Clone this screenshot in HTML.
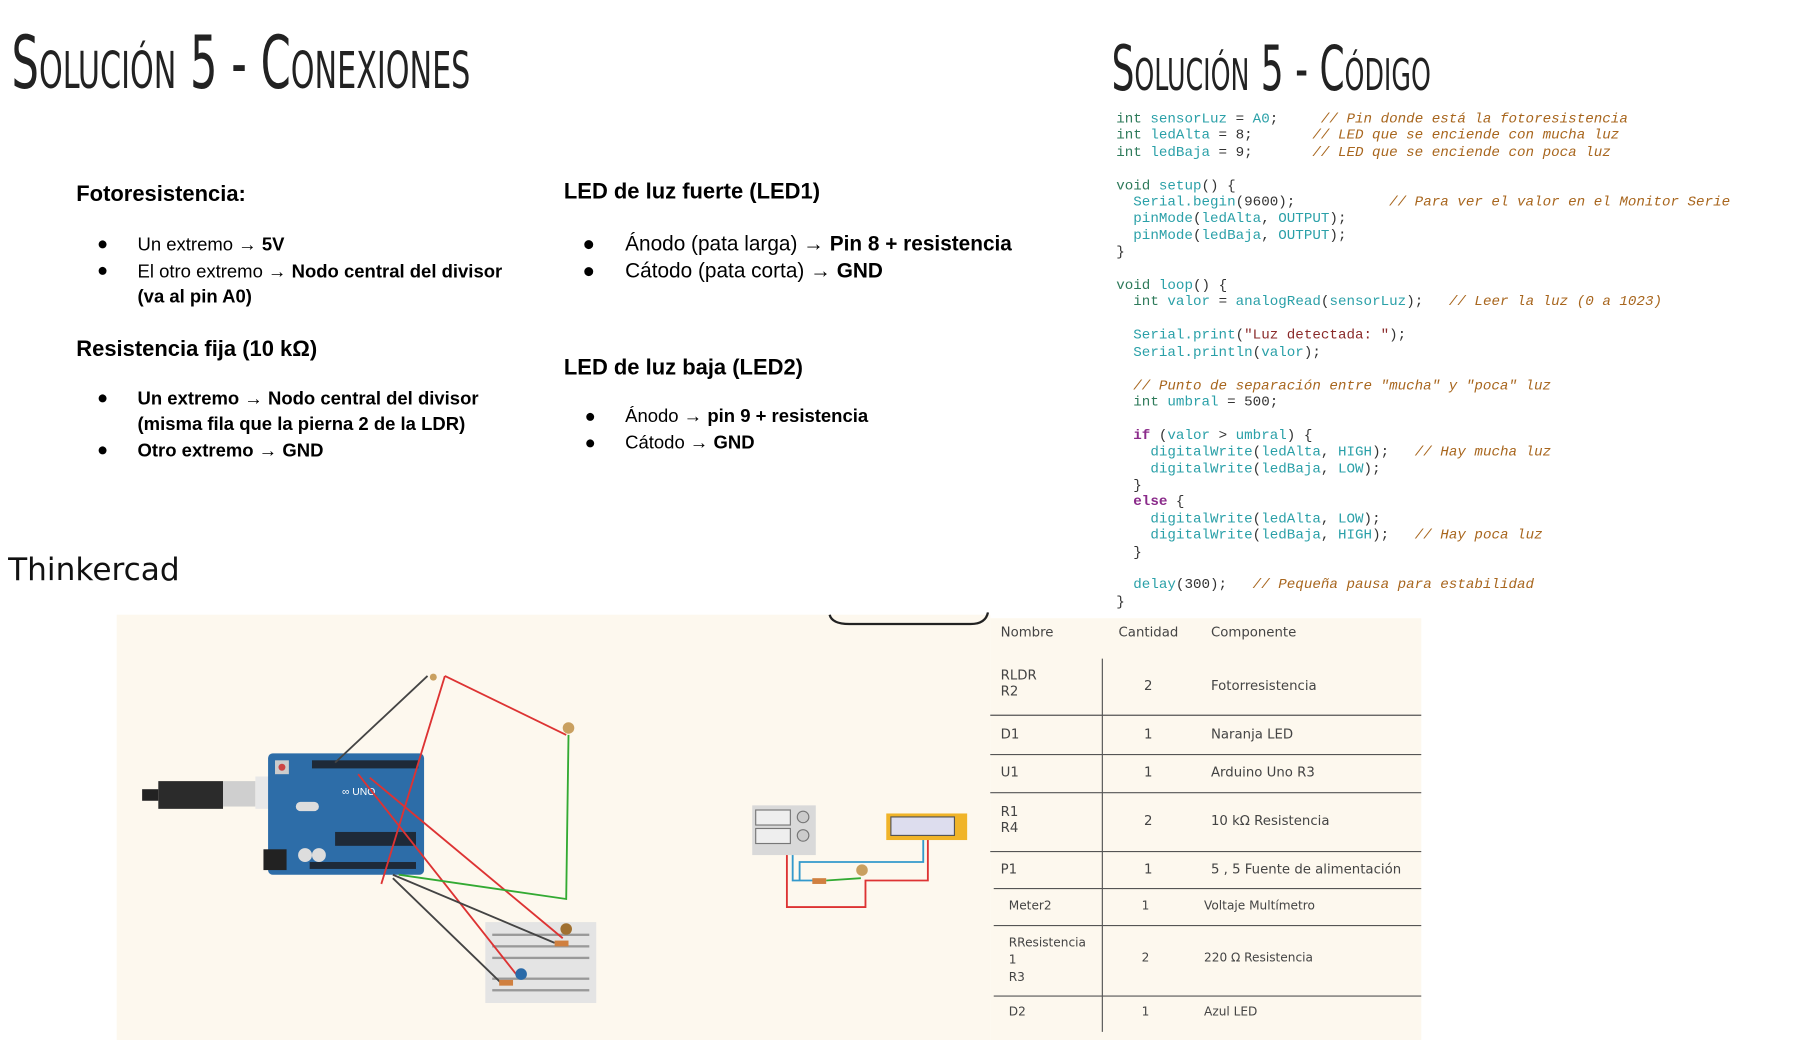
<!DOCTYPE html>
<html><head><meta charset="utf-8"><style>
html,body{margin:0;padding:0;background:#fff;width:1809px;height:1034px;overflow:hidden}
#s{position:absolute;left:0;top:0;width:1560px;height:892px;transform:scale(1.1555);transform-origin:0 0;font-family:"Liberation Sans",sans-serif;color:#000}
.a{position:absolute;white-space:nowrap}
.t{font-family:"DejaVu Sans Condensed","Liberation Sans",sans-serif;font-variant:small-caps;font-weight:300;transform-origin:0 0;color:#222}
.h{font-weight:bold;font-size:19px}
.b{font-size:16px}
.b2{font-size:18px}
pre{position:absolute;margin:0;font-family:"Liberation Mono",monospace;font-size:12.3px;line-height:14.4px;color:#333}
.k{color:#2e7a5a}.i{color:#2aa0a8}.c{color:#a8661e;font-style:italic}.s{color:#8a2a2a}.p{color:#8a2a8a;font-weight:bold}.n{color:#222}
.tb{position:absolute;font-family:"DejaVu Sans","Liberation Sans",sans-serif;font-size:11.5px;color:#444}
</style></head><body><div id="s">
<div class="a t" style="left:10px;top:18px;font-size:63px;transform:scaleX(.66)">Solución 5 - Conexiones</div>
<div class="a t" style="left:962px;top:28px;font-size:54px;transform:scaleX(.64)">Solución 5 - Código</div>

<div class="a h" style="left:66px;top:158px">Fotoresistencia:</div>
<div class="a b" style="left:84px;top:203px">●</div><div class="a b" style="left:119px;top:204px">Un extremo → <b>5V</b></div>
<div class="a b" style="left:84px;top:226px">●</div><div class="a b" style="left:119px;top:227px">El otro extremo → <b>Nodo central del divisor</b></div>
<div class="a b" style="left:119px;top:249px"><b>(va al pin A0)</b></div>
<div class="a h" style="left:66px;top:292px">Resistencia fija (10 kΩ)</div>
<div class="a b" style="left:84px;top:336px">●</div><div class="a b" style="left:119px;top:337px"><b>Un extremo → Nodo central del divisor</b></div>
<div class="a b" style="left:119px;top:359px"><b>(misma fila que la pierna 2 de la LDR)</b></div>
<div class="a b" style="left:84px;top:381px">●</div><div class="a b" style="left:119px;top:382px"><b>Otro extremo → GND</b></div>

<div class="a h" style="left:488px;top:156px">LED de luz fuerte (LED1)</div>
<div class="a b2" style="left:504px;top:201px">●</div><div class="a b2" style="left:541px;top:201px">Ánodo (pata larga) → <b>Pin 8 + resistencia</b></div>
<div class="a b2" style="left:504px;top:224px">●</div><div class="a b2" style="left:541px;top:224px">Cátodo (pata corta) → <b>GND</b></div>
<div class="a h" style="left:488px;top:308px">LED de luz baja (LED2)</div>
<div class="a b" style="left:506px;top:352px">●</div><div class="a b" style="left:541px;top:352px">Ánodo → <b>pin 9 + resistencia</b></div>
<div class="a b" style="left:506px;top:375px">●</div><div class="a b" style="left:541px;top:375px">Cátodo → <b>GND</b></div>

<div class="a" style="left:7px;top:478px;font-family:'DejaVu Sans',sans-serif;font-size:27px;color:#111">Thinkercad</div>

<pre style="left:966px;top:96px"><span class="k">int</span> <span class="i">sensorLuz</span> = <span class="i">A0</span>;     <span class="c">// Pin donde está la fotoresistencia</span>
<span class="k">int</span> <span class="i">ledAlta</span> = 8;       <span class="c">// LED que se enciende con mucha luz</span>
<span class="k">int</span> <span class="i">ledBaja</span> = 9;       <span class="c">// LED que se enciende con poca luz</span>

<span class="k">void</span> <span class="i">setup</span>() {
  <span class="i">Serial.begin</span>(9600);           <span class="c">// Para ver el valor en el Monitor Serie</span>
  <span class="i">pinMode</span>(<span class="i">ledAlta</span>, <span class="i">OUTPUT</span>);
  <span class="i">pinMode</span>(<span class="i">ledBaja</span>, <span class="i">OUTPUT</span>);
}

<span class="k">void</span> <span class="i">loop</span>() {
  <span class="k">int</span> <span class="i">valor</span> = <span class="i">analogRead</span>(<span class="i">sensorLuz</span>);   <span class="c">// Leer la luz (0 a 1023)</span>

  <span class="i">Serial.print</span>(<span class="s">"Luz detectada: "</span>);
  <span class="i">Serial.println</span>(<span class="i">valor</span>);

  <span class="c">// Punto de separación entre "mucha" y "poca" luz</span>
  <span class="k">int</span> <span class="i">umbral</span> = 500;

  <span class="p">if</span> (<span class="i">valor</span> &gt; <span class="i">umbral</span>) {
    <span class="i">digitalWrite</span>(<span class="i">ledAlta</span>, <span class="i">HIGH</span>);   <span class="c">// Hay mucha luz</span>
    <span class="i">digitalWrite</span>(<span class="i">ledBaja</span>, <span class="i">LOW</span>);
  }
  <span class="p">else</span> {
    <span class="i">digitalWrite</span>(<span class="i">ledAlta</span>, <span class="i">LOW</span>);
    <span class="i">digitalWrite</span>(<span class="i">ledBaja</span>, <span class="i">HIGH</span>);   <span class="c">// Hay poca luz</span>
  }

  <span class="i">delay</span>(300);   <span class="c">// Pequeña pausa para estabilidad</span>
}</pre>

<svg class="a" style="left:0;top:0" width="1560" height="900">
<rect x="101" y="532" width="756" height="368" fill="#fdf8ee"/>
<rect x="857" y="535" width="373" height="365" fill="#fdf8ee"/>
<path d="M718 532 Q720 540 735 540 L840 540 Q853 540 855 530" fill="none" stroke="#222" stroke-width="2"/>
<rect x="123" y="683" width="14" height="10" fill="#222"/>
<rect x="137" y="676" width="56" height="24" fill="#2b2b2b"/>
<rect x="193" y="676" width="28" height="22" fill="#cfcfcf"/>
<rect x="221" y="672" width="30" height="28" fill="#e8e8e8"/>
<rect x="232" y="652" width="135" height="105" rx="4" fill="#2d6da8"/>
<rect x="228" y="735" width="20" height="18" fill="#222"/>
<rect x="270" y="658" width="92" height="7" fill="#1e2a38"/>
<rect x="290" y="720" width="70" height="12" fill="#1e2a38"/>
<rect x="268" y="746" width="92" height="6" fill="#1e2a38"/>
<rect x="238" y="658" width="12" height="12" fill="#ccc"/><circle cx="244" cy="664" r="3" fill="#c44"/>
<rect x="256" y="694" width="20" height="8" rx="4" fill="#ddd"/>
<circle cx="264" cy="740" r="6" fill="#ddd"/><circle cx="276" cy="740" r="6" fill="#ddd"/>
<text x="296" y="688" font-size="9" fill="#fff" font-family="Liberation Sans">∞ UNO</text>
<rect x="420" y="798" width="96" height="70" fill="#e4e4e4"/>
<g fill="#999"><rect x="426" y="808" width="84" height="2"/><rect x="426" y="818" width="84" height="2"/><rect x="426" y="828" width="84" height="2"/><rect x="426" y="846" width="84" height="2"/><rect x="426" y="856" width="84" height="2"/></g>
<g fill="none" stroke-width="1.6">
<path d="M290 660 L370 585" stroke="#444"/>
<path d="M385 585 L490 636" stroke="#d33"/>
<path d="M385 585 L330 765" stroke="#d33"/>
<path d="M320 673 L487 812" stroke="#d33"/>
<path d="M310 670 L449 846" stroke="#d33"/>
<path d="M492 636 L490 778 L345 757" stroke="#3a3"/>
<path d="M340 757 L480 816" stroke="#444"/>
<path d="M340 760 L433 850" stroke="#444"/>
<path d="M681 738 L681 785 L749 785 L749 762 L803 762 L803 727" stroke="#d33"/>
<path d="M686 738 L686 762 L704 762" stroke="#39c"/>
<path d="M692 762 L692 746 L799 746 L799 727" stroke="#39c"/>
<path d="M715 762 L745 760" stroke="#3a3"/>
</g>
<circle cx="375" cy="586" r="3" fill="#c9a060"/><circle cx="492" cy="630" r="5" fill="#c9a060"/>
<circle cx="490" cy="804" r="5" fill="#a07030"/><circle cx="451" cy="843" r="5" fill="#2a6aa8"/>
<rect x="480" y="814" width="12" height="5" fill="#d08040"/><rect x="432" y="848" width="12" height="5" fill="#d08040"/>
<rect x="651" y="697" width="55" height="43" fill="#d9d9d9"/>
<rect x="654" y="701" width="30" height="13" fill="#eee" stroke="#777"/><rect x="654" y="717" width="30" height="13" fill="#eee" stroke="#777"/>
<circle cx="695" cy="707" r="5" fill="#ccc" stroke="#777"/><circle cx="695" cy="723" r="5" fill="#ccc" stroke="#777"/>
<rect x="767" y="704" width="70" height="23" fill="#f0b429"/><rect x="771" y="707" width="55" height="16" fill="#dde" stroke="#555"/>
<circle cx="746" cy="753" r="5" fill="#c9a060"/><rect x="703" y="760" width="12" height="5" fill="#d08040"/>
<g stroke="#555" stroke-width="1">
<line x1="954" y1="570" x2="954" y2="893"/>
<line x1="857" y1="619" x2="1230" y2="619"/><line x1="857" y1="653" x2="1230" y2="653"/>
<line x1="857" y1="686" x2="1230" y2="686"/><line x1="857" y1="737" x2="1230" y2="737"/>
<line x1="860" y1="769" x2="1230" y2="769"/><line x1="860" y1="801" x2="1230" y2="801"/>
<line x1="860" y1="862" x2="1230" y2="862"/>
</g>
</svg>
<div class="tb" style="left:866px;top:540px">Nombre</div><div class="tb" style="left:968px;top:540px">Cantidad</div><div class="tb" style="left:1048px;top:540px">Componente</div>
<div class="tb" style="left:866px;top:577px">RLDR<br>R2</div><div class="tb" style="left:990px;top:586px">2</div><div class="tb" style="left:1048px;top:586px">Fotorresistencia</div>
<div class="tb" style="left:866px;top:628px">D1</div><div class="tb" style="left:990px;top:628px">1</div><div class="tb" style="left:1048px;top:628px">Naranja LED</div>
<div class="tb" style="left:866px;top:661px">U1</div><div class="tb" style="left:990px;top:661px">1</div><div class="tb" style="left:1048px;top:661px">Arduino Uno R3</div>
<div class="tb" style="left:866px;top:695px">R1<br>R4</div><div class="tb" style="left:990px;top:703px">2</div><div class="tb" style="left:1048px;top:703px">10 kΩ Resistencia</div>
<div class="tb" style="left:866px;top:745px">P1</div><div class="tb" style="left:990px;top:745px">1</div><div class="tb" style="left:1048px;top:745px">5 , 5 Fuente de alimentación</div>
<div class="tb" style="left:873px;top:778px;font-size:10.5px">Meter2</div><div class="tb" style="left:988px;top:778px;font-size:10.5px">1</div><div class="tb" style="left:1042px;top:778px;font-size:10.5px">Voltaje Multímetro</div>
<div class="tb" style="left:873px;top:809px;font-size:10.5px;line-height:15px">RResistencia<br>1<br>R3</div><div class="tb" style="left:988px;top:823px;font-size:10.5px">2</div><div class="tb" style="left:1042px;top:823px;font-size:10.5px">220 Ω Resistencia</div>
<div class="tb" style="left:873px;top:870px;font-size:10.5px">D2</div><div class="tb" style="left:988px;top:870px;font-size:10.5px">1</div><div class="tb" style="left:1042px;top:870px;font-size:10.5px">Azul LED</div>
</div></body></html>
